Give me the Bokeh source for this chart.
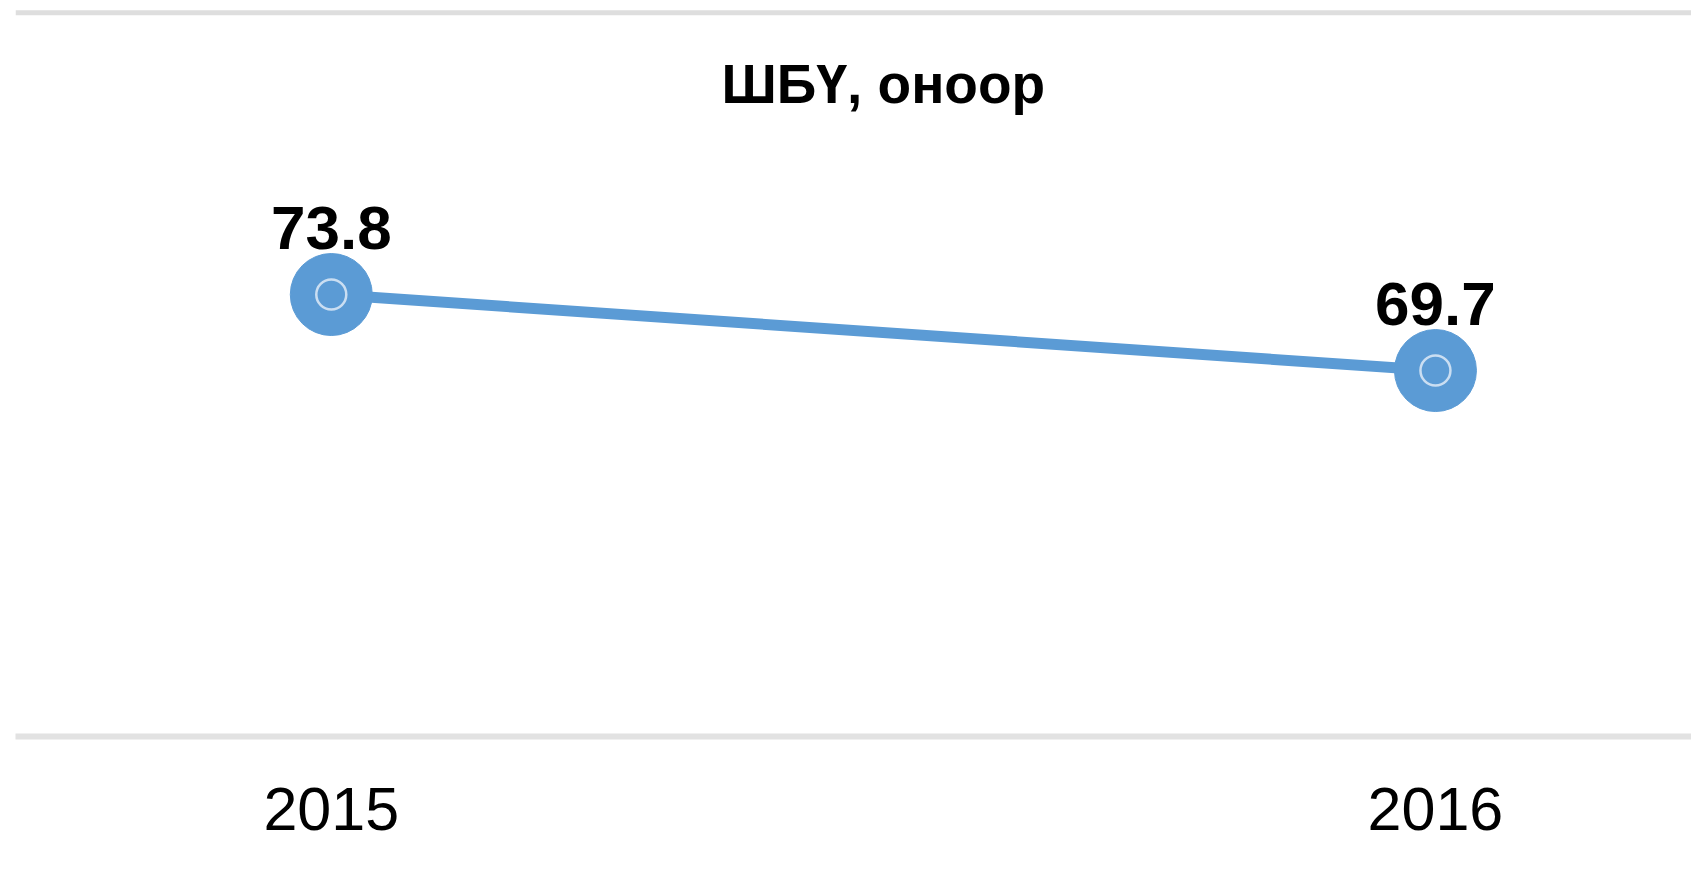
from bokeh.plotting import figure
from bokeh.models import Range1d, Span, FixedTicker, Label, ColumnDataSource
from bokeh.core.properties import value
from bokeh.embed import file_html
from bokeh.resources import INLINE

# ---- data ----
years = [2015, 2016]
scores = [73.8, 69.7]
tick_labels = ["2015", "2016"]
point_labels = ["73.8", "69.7"]
title_text = "ШБҮ, оноор"

FONT = "Liberation Sans"
BLUE = "#5b9bd5"

src = ColumnDataSource(dict(x=years, y=scores, lbl=point_labels))

p = figure(
    width=1691, height=865,
    output_backend="svg", toolbar_location=None,
    x_range=Range1d(2014.714, 2016.2319),
    y_range=Range1d(49.96, 89.66),
    min_border_left=15, min_border_right=0,
    min_border_top=0, min_border_bottom=129,
    y_axis_location=None,
)
p.outline_line_color = None
p.grid.visible = False
p.background_fill_color = "white"
p.border_fill_color = "white"

# x axis (bottom line + year labels)
ax = p.xaxis[0]
ax.ticker = FixedTicker(ticks=years)
ax.major_label_overrides = {y: t for y, t in zip(years, tick_labels)}
ax.axis_line_color = "#e2e2e2"
ax.axis_line_width = 6
ax.major_tick_line_color = None
ax.minor_tick_line_color = None
ax.major_tick_out = 0
ax.major_tick_in = 0
ax.major_label_standoff = 51
ax.major_label_text_font = FONT
ax.major_label_text_font_size = "61px"
ax.major_label_text_color = "black"

# top separator line
p.add_layout(Span(location=p.y_range.end - 0.66, dimension="width",
                  line_color="#dedede", line_width=5))

# series
p.line("x", "y", source=src, line_color=BLUE, line_width=11)
p.scatter("x", "y", source=src, size=82, fill_color=BLUE, line_color=BLUE)
p.scatter("x", "y", source=src, size=30, fill_color=None,
          line_color="#e6eff9", line_alpha=0.8, line_width=2.5)

# value labels
p.text("x", "y", text="lbl", source=src, y_offset=-67,
       text_align="center", text_baseline="middle",
       text_font=value(FONT), text_font_size="62px",
       text_font_style="bold", text_color="black")

# title
p.add_layout(Label(x=sum(years) / len(years), y=85.18, text=title_text,
                   text_align="center", text_baseline="middle",
                   text_font=FONT, text_font_size="55px",
                   text_font_style="bold", text_color="black"))

open("out.html", "w").write(file_html(p, INLINE))
